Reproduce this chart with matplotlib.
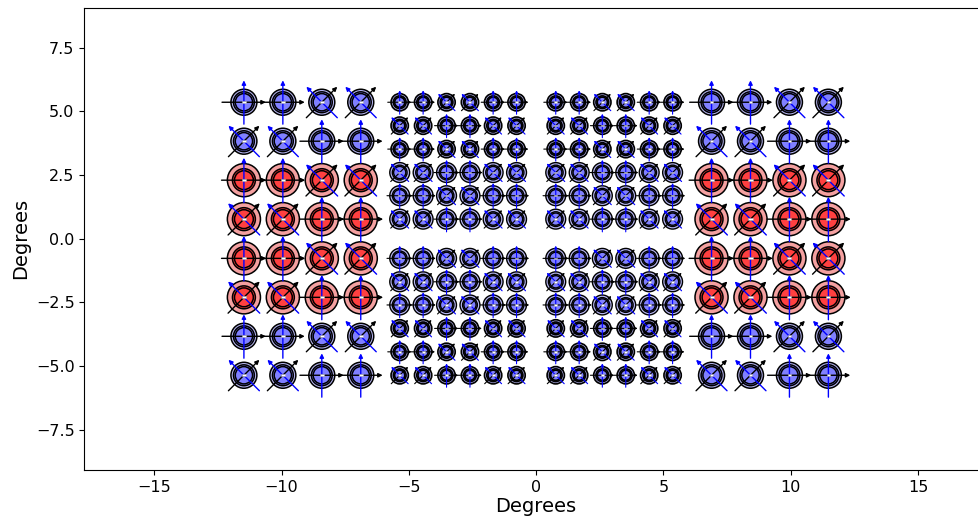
import matplotlib
matplotlib.use('Agg')
import matplotlib.pyplot as plt
from matplotlib.patches import Circle, Rectangle
import numpy as np

# ---- data (degrees) ----
outer_x = [-11.48, -9.95, -8.42, -6.89, 6.89, 8.42, 9.95, 11.48]
outer_y = [5.36, 3.83, 2.30, 0.77, -0.77, -2.30, -3.83, -5.36]
outer_band = ['blue', 'blue', 'red', 'red', 'red', 'red', 'blue', 'blue']

inner_x = [-5.36, -4.44, -3.52, -2.60, -1.69, -0.77, 0.77, 1.69, 2.60, 3.52, 4.44, 5.36]
inner_y = [5.36, 4.44, 3.52, 2.60, 1.69, 0.77, -0.77, -1.69, -2.60, -3.52, -4.44, -5.36]
inner_kind = ['small', 'small', 'small', 'large', 'large', 'large',
              'large', 'large', 'large', 'small', 'small', 'small']

x_ticks = [-15, -10, -5, 0, 5, 10, 15]
y_ticks = [-7.5, -5.0, -2.5, 0.0, 2.5, 5.0, 7.5]

# ---- styles ----
PALE = {'red': '#f4a0a0', 'blue': '#b8b8f4'}
FILL = {'red': '#ff4040', 'blue': '#8080ff'}

W, H = 979, 521
fig = plt.figure(figsize=(W / 100, H / 100), dpi=100)
ax = fig.add_axes([84.3 / W, 51 / H, (988 - 84.3) / W, (470 - 7.5) / H])


def draw_pixel(x, y, R, r1, r2, band, L, orient, lw, alw, ms, rw, rh):
    ax.add_patch(Circle((x, y), R, fc=PALE[band], ec='k', lw=lw, zorder=2))
    ax.add_patch(Circle((x, y), r1, fc=FILL[band], ec='k', lw=lw, zorder=3))
    ax.add_patch(Circle((x, y), r2, fc='none', ec='k', lw=lw, zorder=3))
    a0 = 0.0 if orient == '+' else np.pi / 4
    for ang, col in ((a0, 'black'), (a0 + np.pi / 2, 'blue')):
        dx, dy = np.cos(ang), np.sin(ang)
        ax.annotate('', xy=(x + L * dx, y + L * dy), xytext=(x - L * dx, y - L * dy),
                    arrowprops=dict(arrowstyle='-|>', color=col, lw=alw,
                                    mutation_scale=ms, shrinkA=0, shrinkB=0),
                    zorder=4)
    ax.add_patch(Rectangle((x - rw / 2, y - rh / 2), rw, rh, fc='white',
                           ec='#aaaaaa', lw=0.4, zorder=5))


# outer blocks
for ri, y in enumerate(outer_y):
    band = outer_band[ri]
    for ci, x in enumerate(outer_x):
        c = ci % 4
        orient = '+' if (ri + c // 2) % 2 == 0 else 'x'
        if band == 'red':
            draw_pixel(x, y, 0.65, 0.45, 0.37, band, 0.88, orient, 1.1, 1.0, 6, 0.16, 0.08)
        else:
            draw_pixel(x, y, 0.51, 0.41, 0.34, band, 0.86, orient, 1.1, 1.0, 6, 0.14, 0.07)

# inner blocks
for ri, y in enumerate(inner_y):
    kind = inner_kind[ri]
    for ci, x in enumerate(inner_x):
        c = ci % 6
        orient = '+' if (ri + c // 2) % 2 == 0 else 'x'
        if kind == 'small':
            draw_pixel(x, y, 0.34, 0.25, 0.20, 'blue', 0.47, orient, 1.2, 0.8, 4, 0.12, 0.06)
        else:
            draw_pixel(x, y, 0.39, 0.29, 0.24, 'blue', 0.50, orient, 1.0, 0.8, 4, 0.12, 0.06)

ax.set_xlim(-17.75, 17.75)
ax.set_ylim(-9.08, 9.08)
ax.set_xticks(x_ticks)
ax.set_yticks(y_ticks)
ax.tick_params(labelsize=11.5)
ax.set_xlabel('Degrees', fontsize=14, labelpad=2)
ax.set_ylabel('Degrees', fontsize=14)

fig.savefig('out.png', dpi=100)
